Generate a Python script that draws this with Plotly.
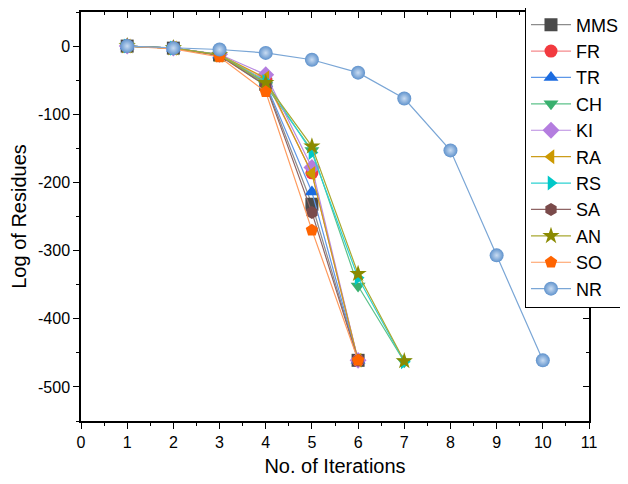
import plotly.graph_objects as go

iters_6 = [1, 2, 3, 4, 5, 6]
iters_7 = [1, 2, 3, 4, 5, 6, 7]
iters_10 = [1, 2, 3, 4, 5, 6, 7, 8, 9, 10]

mms = [0, -3, -13, -56, -232, -461]
fr = [0, -3, -13, -50, -186, -461]
tr = [0, -3, -13, -55, -214, -461]
ch = [0, -3, -13, -58, -153, -352, -463]
ki = [0, -3, -12, -42, -178, -461]
ra = [0, -3, -13, -47, -187, -461]
rs = [0, -3, -13, -52, -156, -340, -463]
sa = [0, -3, -14, -58, -244, -461]
an = [0, -3, -13, -54, -147, -334, -462]
so = [0, -4, -16, -67, -270, -461]
nr = [0, -3, -5, -10, -20, -39, -77, -153, -307, -461]

x_ticks = list(range(0, 12))
y_ticks = [0, -100, -200, -300, -400, -500]
y_tick_text = ["0", "-100", "-200", "-300", "-400", "-500"]

series = [
    ("MMS", iters_6, mms, "#4a4a4a", "#8c8c8c", "square"),
    ("FR", iters_6, fr, "#f23a3f", "#f58a8c", "circle"),
    ("TR", iters_6, tr, "#1b6be0", "#5e97e8", "triangle-up"),
    ("CH", iters_7, ch, "#39b06e", "#5cc28a", "triangle-down"),
    ("KI", iters_6, ki, "#b47ddf", "#b88ae0", "diamond"),
    ("RA", iters_6, ra, "#cc9900", "#cc9d1a", "triangle-left"),
    ("RS", iters_7, rs, "#00c8c8", "#2dd2d2", "triangle-right"),
    ("SA", iters_6, sa, "#7a4a4a", "#8e6464", "hexagon"),
    ("AN", iters_7, an, "#8a8a00", "#a8a830", "star"),
    ("SO", iters_6, so, "#ff6400", "#ff9a5c", "pentagon"),
]

FONT = "Liberation Sans, Arial"

fig = go.Figure()
for name, xs, ys, mc, lc, sym in series:
    fig.add_trace(go.Scatter(
        x=xs, y=ys, name=name, mode="lines+markers",
        line=dict(color=lc, width=1.2),
        marker=dict(symbol=sym, size=13, color=mc, line=dict(width=0)),
    ))

fig.add_trace(go.Scatter(
    x=iters_10, y=nr, name="NR", mode="lines+markers",
    line=dict(color="#7aa6d6", width=1.2),
    marker=dict(symbol="circle", size=14, color="#5f92cc",
                gradient=dict(type="radial", color="#c9dcf2"),
                line=dict(width=0)),
))

# invisible trace to carry the mirrored (top/right) axes with inward ticks
fig.add_trace(go.Scatter(
    x=iters_10, y=nr, xaxis="x2", yaxis="y2", mode="markers",
    marker=dict(opacity=0), showlegend=False, hoverinfo="skip",
))

common = dict(
    showline=True, linecolor="black", linewidth=1.5,
    ticklen=6, tickwidth=1.2, tickcolor="black",
    showgrid=False, zeroline=False,
    tickfont=dict(family=FONT, size=16, color="black"),
)
common_nolabel = {k: v for k, v in common.items() if k != "tickfont"}

fig.update_layout(
    width=628, height=484,
    margin=dict(l=73, r=47, t=4, b=71, autoexpand=False),
    paper_bgcolor="white", plot_bgcolor="white",
    font=dict(family=FONT, color="black"),
    showlegend=True,
    legend=dict(
        x=0.874, y=1.016, xanchor="left", yanchor="top",
        bgcolor="white", bordercolor="black", borderwidth=1,
        font=dict(family=FONT, size=18, color="black"),
        itemwidth=40, maxheight=480, tracegroupgap=0,
    ),
    xaxis=dict(
        range=[0, 11], tickvals=x_ticks, ticks="outside",
        title=dict(text="No. of Iterations", font=dict(family=FONT, size=20), standoff=9),
        minor=dict(dtick=0.5, ticks="outside", ticklen=3, tickwidth=1.2, tickcolor="black"),
        **common,
    ),
    yaxis=dict(
        range=[-550, 50], tickvals=y_ticks, ticktext=y_tick_text, ticks="outside",
        title=dict(text="Log of Residues", font=dict(family=FONT, size=20), standoff=6),
        minor=dict(dtick=50, ticks="outside", ticklen=3, tickwidth=1.2, tickcolor="black"),
        **common,
    ),
    xaxis2=dict(
        overlaying="x", side="top", range=[0, 11], tickvals=x_ticks, ticks="inside",
        showticklabels=False,
        minor=dict(dtick=0.5, ticks="inside", ticklen=3, tickwidth=1.2, tickcolor="black"),
        **common_nolabel,
    ),
    yaxis2=dict(
        overlaying="y", side="right", range=[-550, 50], tickvals=y_ticks, ticks="inside",
        showticklabels=False,
        minor=dict(dtick=50, ticks="inside", ticklen=3, tickwidth=1.2, tickcolor="black"),
        **common_nolabel,
    ),
)

fig.write_html("out.html")
